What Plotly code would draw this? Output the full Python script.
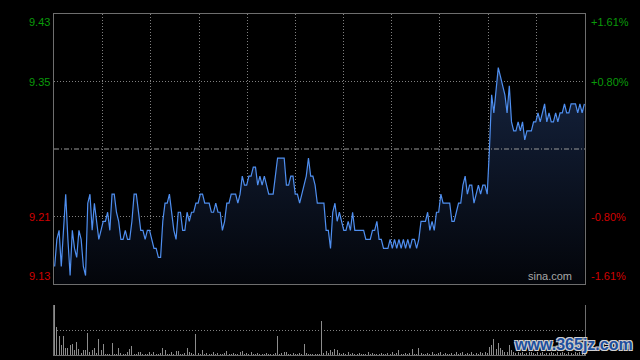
import plotly.graph_objects as go

# ---------------- data ----------------
prev_close = 9.28
pct_levels = [1.61, 0.805, -0.805, -1.61]
price_labels = ["9.43", "9.35", "9.21", "9.13"]
pct_labels = ["+1.61%", "+0.80%", "-0.80%", "-1.61%"]
label_colors = ["#0a9a0a", "#0a9a0a", "#d00000", "#d00000"]

minutes = list(range(241))

price = [
    9.15, 9.18, 9.19, 9.15, 9.19, 9.23, 9.18, 9.14, 9.19, 9.17,
    9.16, 9.19, 9.18, 9.15, 9.14, 9.22, 9.23, 9.19, 9.22, 9.20,
    9.18, 9.19, 9.20, 9.20, 9.21, 9.19, 9.23, 9.23, 9.21, 9.20,
    9.18, 9.18, 9.19, 9.18, 9.18, 9.20, 9.23, 9.23, 9.21, 9.19,
    9.19, 9.18, 9.19, 9.19, 9.18, 9.17, 9.17, 9.16, 9.16, 9.20,
    9.22, 9.22, 9.23, 9.21, 9.19, 9.18, 9.21, 9.21, 9.19, 9.19,
    9.21, 9.20, 9.21, 9.21, 9.22, 9.22, 9.23, 9.23, 9.22, 9.22,
    9.22, 9.21, 9.21, 9.22, 9.21, 9.21, 9.19, 9.20, 9.22, 9.22,
    9.23, 9.23, 9.23, 9.22, 9.23, 9.25, 9.24, 9.24, 9.25, 9.25,
    9.26, 9.26, 9.24, 9.25, 9.24, 9.25, 9.24, 9.23, 9.23, 9.23,
    9.25, 9.27, 9.27, 9.27, 9.27, 9.24, 9.24, 9.25, 9.25, 9.23,
    9.23, 9.22, 9.23, 9.24, 9.25, 9.27, 9.25, 9.25, 9.24, 9.22,
    9.22,
    9.22, 9.22, 9.19, 9.19, 9.17, 9.21, 9.22, 9.20, 9.21,
    9.20, 9.19, 9.19, 9.20, 9.19, 9.21, 9.19, 9.19, 9.19, 9.19,
    9.19, 9.18, 9.18, 9.18, 9.19, 9.19, 9.20, 9.18, 9.18, 9.17,
    9.17, 9.17, 9.18, 9.17, 9.18, 9.17, 9.18, 9.17, 9.18, 9.17,
    9.18, 9.17, 9.18, 9.18, 9.17, 9.18, 9.20, 9.20, 9.20, 9.21,
    9.19, 9.20, 9.19, 9.21, 9.21, 9.23,
    9.22, 9.22, 9.22, 9.22,
    9.20, 9.20, 9.21, 9.22, 9.22, 9.24, 9.25, 9.23, 9.24, 9.24,
    9.22, 9.23, 9.24, 9.23, 9.24, 9.24, 9.23, 9.28, 9.34, 9.32,
    9.35, 9.37, 9.36, 9.35, 9.34, 9.32, 9.35, 9.31, 9.30, 9.30,
    9.31, 9.30, 9.31, 9.29, 9.30, 9.30, 9.30, 9.31, 9.31, 9.32,
    9.31, 9.32, 9.33, 9.31, 9.32, 9.31, 9.31, 9.32, 9.31, 9.32,
    9.32, 9.33, 9.32, 9.32, 9.33, 9.33, 9.33, 9.32, 9.33, 9.32,
    9.33,
]

volume = [
    5000, 2800, 1870, 970, 1870, 730, 730, 970, 1070, 530, 1300, 630, 200, 470, 470, 2200, 270, 470, 730, 200, 1630, 470, 1070, 130, 150, 100, 1200, 150, 150, 670,
    200, 150, 100, 300, 600, 870, 150, 100, 270, 270, 100, 150, 100, 270, 150, 270, 150, 100, 200, 670, 530, 100, 150, 270, 100, 400, 400, 100, 150, 200,
    670, 330, 200, 150, 2070, 200, 150, 530, 150, 200, 150, 100, 270, 150, 200, 100, 150, 200, 400, 150, 100, 200, 150, 100, 270, 400, 150, 200, 100, 270,
    150, 100, 200, 150, 100, 150, 200, 100, 150, 100, 200, 1870, 150, 200, 300, 270, 100, 150, 200, 100, 150, 200, 150, 1070, 200, 100, 150, 100, 150, 100,
    150, 3370, 200, 400, 200, 470, 330, 600, 530, 200, 150, 200, 100, 270, 150, 200, 100, 150, 200, 150, 100, 150, 270, 100, 200, 150, 100, 150, 200, 100,
    150, 200, 100, 270, 150, 200, 530, 150, 100, 200, 150, 200, 630, 150, 100, 730, 200, 150, 100, 200, 150, 270, 100, 150, 200, 300, 150, 200, 100, 150,
    200, 150, 270, 100, 200, 300, 150, 200, 150, 270, 150, 200, 100, 270, 200, 300, 250, 800, 970, 1630, 630, 1200, 730, 530, 300, 270, 970, 530, 300, 200,
    270, 200, 300, 150, 200, 270, 300, 200, 150, 270, 200, 300, 150, 200, 250, 300, 200, 150, 270, 200, 300, 200, 150, 270, 200, 150, 300, 200, 270, 150, 200,
]
vol_max = 5000

assert len(price) == 241, len(price)
assert len(volume) == 241, len(volume)

# ---------------- derived scale ----------------
y_hi = prev_close * (1 + pct_levels[0] / 100)
y_lo = prev_close * (1 + pct_levels[-1] / 100)
grid_vals = [prev_close * (1 + p / 100) for p in pct_levels[1:3]]
label_vals = [prev_close * (1 + p / 100) for p in pct_levels]

FONT = "Arial, 'Liberation Sans', sans-serif"
GRID = "#808080"
BORDER = "#6e6e6e"
DOT = "1px,2px"

fig = go.Figure()

fig.add_trace(go.Scatter(
    x=minutes, y=price, mode="lines",
    line=dict(color="#4f8ff0", width=1.2),
    fill="tozeroy",
    fillgradient=dict(type="vertical",
                      colorscale=[[0, "#03050a"], [1, "#1a2b4c"]],
                      start=y_lo, stop=y_hi),
    xaxis="x", yaxis="y", hoverinfo="skip",
))

fig.add_trace(go.Bar(
    x=minutes, y=volume, width=0.45,
    marker=dict(color="#8c8c8c", line=dict(width=0)),
    xaxis="x2", yaxis="y2", hoverinfo="skip",
))

annotations = []
for v, pl, ql, c, i in zip(label_vals, price_labels, pct_labels, label_colors, range(4)):
    ya = "top" if i == 0 else ("bottom" if i == 3 else "middle")
    annotations.append(dict(xref="paper", yref="y", x=0, y=v, text=pl,
                            xanchor="right", yanchor=ya, xshift=-2,
                            showarrow=False, font=dict(family=FONT, size=11, color=c)))
    annotations.append(dict(xref="paper", yref="y", x=1, y=v, text=ql,
                            xanchor="left", yanchor=ya, xshift=4,
                            showarrow=False, font=dict(family=FONT, size=11, color=c)))

annotations.append(dict(xref="paper", yref="y", x=1, y=y_lo, text="sina.com",
                        xanchor="right", yanchor="bottom", xshift=-11, yshift=0,
                        showarrow=False, font=dict(family=FONT, size=11, color="#a8a8a8")))

annotations.append(dict(xref="paper", yref="paper", x=0.978, y=0.03, text="<b>www.365jz.com</b>",
                        xanchor="center", yanchor="middle", showarrow=False,
                        font=dict(family=FONT, size=16, color="#1d4f9e",
                                  shadow="1px 1px 0 #d0d0d0, -1px -1px 0 #d0d0d0, 1px -1px 0 #d0d0d0, -1px 1px 0 #d0d0d0")))

main_bottom = 71 / 341
vol_top = 50 / 341

fig.update_layout(
    width=640, height=360,
    margin=dict(l=54, r=55, t=14, b=5),
    paper_bgcolor="#000000", plot_bgcolor="#000000",
    showlegend=False,
    hovermode=False,
    xaxis=dict(domain=[0, 1], range=[-0.3, 240.3], anchor="y",
               tickvals=[240 * k / 11 for k in range(1, 11)],
               showticklabels=False, ticks="",
               showgrid=True, gridcolor=GRID, griddash=DOT, gridwidth=1,
               zeroline=False, showline=True, mirror=True, linecolor=BORDER, linewidth=1),
    yaxis=dict(domain=[main_bottom, 1], range=[y_lo, y_hi], anchor="x",
               tickvals=grid_vals, showticklabels=False, ticks="",
               showgrid=True, gridcolor=GRID, griddash=DOT, gridwidth=1,
               zeroline=False, showline=True, mirror=True, linecolor=BORDER, linewidth=1),
    xaxis2=dict(domain=[0, 1], range=[-0.3, 240.3], anchor="y2",
                showticklabels=False, ticks="", showgrid=False, zeroline=False,
                showline=True, mirror=False, linecolor=BORDER, linewidth=1),
    yaxis2=dict(domain=[0, vol_top], range=[0, vol_max], anchor="x2",
                tickvals=[vol_max / 2, vol_max], showticklabels=False, ticks="",
                showgrid=True, gridcolor=GRID, griddash=DOT, gridwidth=1,
                zeroline=False, showline=True, mirror=True, linecolor=BORDER, linewidth=1),
    shapes=[dict(type="line", xref="paper", yref="y", x0=0, x1=1,
                 y0=prev_close, y1=prev_close,
                 line=dict(color="#9a9a9a", width=1, dash="5px,2px,1px,2px"))],
    annotations=annotations,
    bargap=0,
)

fig.write_html(
    "out.html",
    config={"displayModeBar": False, "staticPlot": True},
    post_script="document.body.style.margin='0';document.body.style.background='#000';document.body.style.overflow='hidden';",
)
